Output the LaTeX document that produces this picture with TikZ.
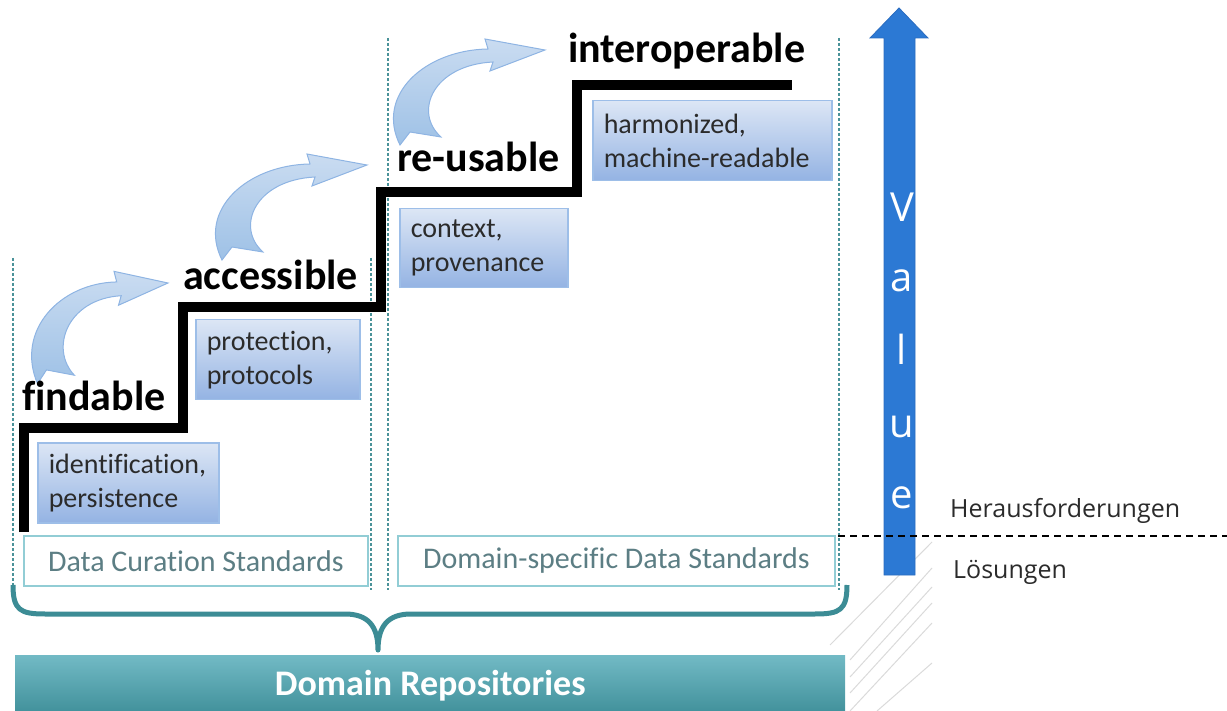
\documentclass[tikz,border=0pt]{standalone}
\usepackage{fontspec}
\setmainfont{Carlito}[Ligatures=NoCommon]
\newfontfamily\osans{Open Sans}
\definecolor{boxtop}{HTML}{DCE6F5}
\definecolor{boxbot}{HTML}{94B3E3}
\definecolor{boxedge}{HTML}{9DBEE8}
\definecolor{txtdark}{HTML}{2B2B2B}
\definecolor{tealdash}{HTML}{4A9299}
\definecolor{stdedge}{HTML}{92CDD5}
\definecolor{stdtext}{HTML}{5C7E84}
\definecolor{bracecol}{HTML}{3C8C95}
\definecolor{bartop}{HTML}{72BAC5}
\definecolor{barbot}{HTML}{3F8F99}
\definecolor{arrtop}{HTML}{CADCF1}
\definecolor{arrbot}{HTML}{9EC1E6}
\definecolor{arredge}{HTML}{8EB4E3}
\definecolor{valblue}{HTML}{2C79D4}
\definecolor{valedge}{HTML}{2A6CC0}
\definecolor{faint}{HTML}{DADADA}
\begin{document}
\begin{tikzpicture}[x=1pt,y=-1pt,
  bluebox/.style={draw=boxedge, line width=1.5pt, top color=boxtop, bottom color=boxbot,
    anchor=north west, inner xsep=11pt, inner ysep=0pt, align=left, text=txtdark,
    font=\fontsize{28}{34}\selectfont},
  steplabel/.style={anchor=base west, inner sep=0pt, font=\fontsize{42}{50}\selectfont\bfseries},
  stdbox/.style={draw=stdedge, line width=1.8pt, fill=white, text=stdtext, inner sep=0pt,
    font=\fontsize{30}{36}\selectfont},
  vdash/.style={draw=tealdash, line width=2pt, dash pattern=on 3pt off 2pt},
  stair/.style={draw=black, line width=10pt, miter limit=10},
  carrow/.style={draw=arredge, line width=1pt, top color=arrtop, bottom color=arrbot},
  faintline/.style={draw=faint, line width=1pt},
  valletter/.style={anchor=base, inner sep=0pt, text=white, font=\osans\fontsize{40}{48}\selectfont},
  sidelabel/.style={anchor=base west, inner sep=0pt, text=txtdark, font=\osans\fontsize{25}{30}\selectfont}
]
\useasboundingbox (0,0) rectangle (1227,711);

% faint hatching lines
\draw[faintline] (932,542) -- (830,645);
\draw[faintline] (932,568) -- (850,660);
\draw[faintline] (932,587) -- (850,677);
\draw[faintline] (932,603) -- (850,693);
\draw[faintline] (932,623) -- (850,711);
\draw[faintline] (932,663) -- (877,711);

% dashed column separators
\draw[vdash] (13,258) -- (13,588);
\draw[vdash] (371,258) -- (371,590);
\draw[vdash] (388,38) -- (388,590);
\draw[vdash] (839,38) -- (839,590);

% blue boxes
\node[bluebox, text width=159pt, minimum height=80pt] (idb) at (37,442) {identification,\\persistence};
\node[bluebox, text width=142pt, minimum height=80pt] (prb) at (195,319) {protection,\\protocols};
\node[bluebox, text width=146pt, minimum height=79pt] (cxb) at (399,208) {context,\\provenance};
\node[bluebox, text width=217pt, minimum height=80pt] (hmb) at (592,100) {harmonized,\\machine-readable};

% curved arrows
\begin{scope}[shift={(168,283)}, xscale=0.9, yscale=1.06]
\path[carrow] (-145,95) -- (-135,82) -- (-104,87) .. controls (-132,62) and (-112,15) .. (-52,12)
  -- (-55,21) -- (0,0) -- (-60,-11) -- (-57,-1) .. controls (-120,0) and (-170,45) .. cycle;
\end{scope}
\begin{scope}[shift={(367,165)}]
\path[carrow] (-145,95) -- (-135,82) -- (-104,87) .. controls (-132,62) and (-112,15) .. (-52,12)
  -- (-55,21) -- (0,0) -- (-60,-11) -- (-57,-1) .. controls (-120,0) and (-170,45) .. cycle;
\end{scope}
\begin{scope}[shift={(545,50)}]
\path[carrow] (-145,95) -- (-135,82) -- (-104,87) .. controls (-132,62) and (-112,15) .. (-52,12)
  -- (-55,21) -- (0,0) -- (-60,-11) -- (-57,-1) .. controls (-120,0) and (-170,45) .. cycle;
\end{scope}

% staircase
\coordinate (s0) at (24,532);
\coordinate (s1) at (24,428);
\coordinate (s2) at (183,428);
\coordinate (s3) at (183,307);
\coordinate (s4) at (381,307);
\coordinate (s5) at (381,192);
\coordinate (s6) at (577,192);
\coordinate (s7) at (577,85);
\coordinate (s8) at (792,85);
\draw[stair] (s0) -- (s1) -- (s2) -- (s3) -- (s4) -- (s5) -- (s6) -- (s7) -- (s8);

% step labels
\node[steplabel] (lf) at (22,410) {findable};
\node[steplabel] (la) at (183,290) {accessible};
\node[steplabel] (lr) at (397,172) {re-usable};
\node[steplabel] (li) at (568,63) {interoperable};

% standards boxes
\node[stdbox, minimum width=344pt, minimum height=50pt, anchor=north west] (dcs) at (23,535) {Data Curation Standards};
\node[stdbox, minimum width=437pt, minimum height=50pt, anchor=north west] (dds) at (397,535) {Domain-specific Data Standards};

% brace
\coordinate (bl) at (13,585);
\coordinate (bc) at (378,650);
\coordinate (br) at (847,585);
\draw[draw=bracecol, line width=5pt, line join=round]
  (bl) .. controls (13,610) and (20,614) .. (45,614) -- (345,614)
  .. controls (368,614) and (378,626) .. (bc)
  .. controls (378,626) and (388,614) .. (411,614) -- (815,614)
  .. controls (840,614) and (847,610) .. (br);

% domain repositories bar
\node[anchor=north west, minimum width=830pt, minimum height=60pt, inner sep=0pt,
  top color=bartop, bottom color=barbot, text=white,
  font=\fontsize{36}{42}\selectfont\bfseries] (bar) at (15,655) {\raisebox{-3pt}{Domain Repositories}};

% value arrow
\path[fill=valblue, draw=valedge, line width=0.8pt]
  (884,575) -- (884,38) -- (870,38) -- (899,8) -- (928,38) -- (915,38) -- (915,575) -- cycle;
\node[valletter] (v1) at (902,222) {V};
\node[valletter] (v2) at (902,292) {a};
\node[valletter] (v3) at (902,365) {l};
\node[valletter] (v4) at (902,437) {u};
\node[valletter] (v5) at (902,508) {e};

% challenge / solution divider
\coordinate (d0) at (838,536);
\coordinate (d1) at (1227,536);
\draw[black, line width=1.6pt, dash pattern=on 7pt off 5pt] (d0) -- (d1);
\node[sidelabel] (her) at (950,517) {Herausforderungen};
\node[sidelabel] (loe) at (953,578) {Lösungen};
\end{tikzpicture}
\end{document}
